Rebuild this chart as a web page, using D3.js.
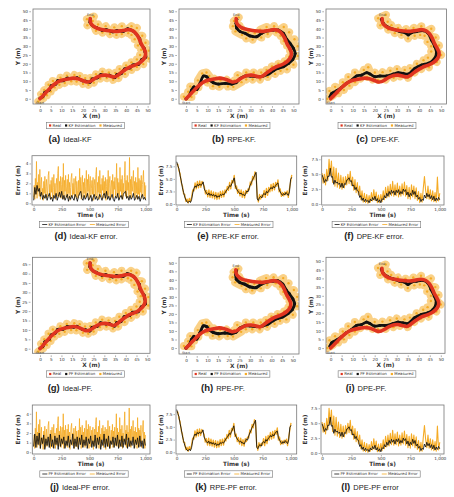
<!DOCTYPE html>
<html>
<head>
<meta charset="utf-8">
<script src="https://cdn.jsdelivr.net/npm/d3@7/dist/d3.min.js"></script>
<style>
  body { margin: 0; background: #fff; }
  svg { display: block; }
  text { font-family: "DejaVu Sans", sans-serif; }
  .cap { font-family: "Liberation Sans", Arial, sans-serif; }
</style>
</head>
<body>
<div id="chart"></div>
<script>
// ---- trajectory data (x, y in metres) ----
const realPath = [[0,0],[1.2,1.5],[2.5,3.2],[4,5.2],[5.5,7],[7,8.6],[8.5,9.8],[10.5,10.7],[13,11.3],[15.5,11.8],[17.5,11.5],
  [19.5,10.6],[21.5,9.6],[23,9.8],[24.5,10.8],[26.5,12.3],[28.5,13.3],[30.5,13.5],[32.5,13],[34.5,12.4],[36,13.3],[37.5,14.8],
  [39.5,16.5],[41.5,18],[43.5,18.9],[45.5,20],[47.5,21.8],[48.8,24],[49,26.5],[48.2,28.8],[47,31.5],[46,34.5],[44.8,37],
  [43.2,38.8],[41,39.5],[38.5,39],[36,38.5],[33.5,38.7],[31,39],[28.5,39.6],[26.5,40.3],[24.8,41.5],[23.6,43.2],[23.3,45.8]];

const idealEstimate = [[0,0.3],[1.4,1.2],[2.2,3.6],[4.3,4.9],[5.2,7.4],[7.3,8.3],[8.2,10.3],[10.8,10.3],[12.7,11.8],[15.8,11.4],
  [17.2,12.0],[19.8,10.2],[21.2,10.1],[23.3,9.4],[24.2,11.3],[26.8,11.9],[28.2,13.8],[30.8,13.1],[32.2,13.5],[34.8,12.0],
  [35.7,13.8],[37.8,14.4],[39.2,17.0],[41.8,17.6],[43.2,19.4],[45.8,19.6],[47.2,22.3],[49.2,23.8],[48.7,26.9],[48.6,28.5],
  [46.6,31.8],[46.4,34.2],[44.4,37.4],[43.6,38.4],[40.7,40.0],[38.8,38.5],[35.7,39.0],[33.8,38.2],[30.7,39.5],[28.8,39.1],
  [26.2,40.8],[25.1,41.1],[23.2,43.6],[23.4,45.6]];

const idealMeasured = [[-0.8,-1.5],[1.5,0.2],[0.5,2.6],[3.2,2.0],[2.0,5.0],[5.0,4.2],[4.0,8.0],[6.8,6.5],[6.0,10.2],[9.0,8.0],
  [9.5,12.0],[11.5,9.0],[12.5,13.2],[14.5,10.0],[16.0,13.6],[17.0,9.8],[18.5,13.0],[20.0,8.5],[21.0,11.8],[22.5,8.0],[23.5,12.0],
  [25.0,9.2],[26.0,14.0],[28.0,11.5],[29.0,15.5],[31.0,11.8],[32.0,15.0],[34.0,10.8],[35.0,14.8],[36.5,11.8],[37.0,17.0],
  [39.5,14.2],[40.0,19.0],[42.5,16.5],[42.5,20.8],[45.0,18.2],[45.0,22.5],[48.0,19.8],[46.5,25.0],[50.5,23.0],[47.0,28.0],
  [50.5,27.5],[45.5,30.5],[49.0,32.0],[44.0,34.0],[47.5,36.0],[42.5,36.5],[45.0,40.5],[41.0,37.5],[42.5,41.5],[38.0,37.0],
  [38.0,41.5],[35.5,36.5],[34.5,40.8],[32.5,37.0],[30.5,41.5],[29.0,37.8],[27.0,42.5],[26.0,38.8],[24.5,44.5],[22.0,42.0],
  [25.0,47.0],[21.8,45.5]];

const rpeEstimate = [[0,0],[1.6,2.1],[2.6,5],[3.7,6.8],[5,5.3],[6.5,8.8],[8.1,13],[9.6,12.6],[10.9,10.7],[12.7,9.2],[15.1,8.4],
  [18.2,8.8],[21.3,8.4],[23.3,9.2],[25.2,11.6],[27.5,13],[29.8,13],[32.9,12.6],[36,13],[38.4,14.1],[40.7,16],[43,17.4],
  [45.3,18.3],[47.7,20.2],[49.7,22.5],[50.8,25.9],[50,28.8],[48.4,31.7],[46.9,34],[45.3,37.4],[43,39.3],[40.7,39.3],
  [38.4,38.9],[35.2,37.4],[32.9,35.5],[29.8,35.9],[27.5,37.4],[25.2,38.4],[23.6,40.3],[23.3,43.1],[23.6,45.4]];

const rpeMeasured = [[-1,1.2],[2.5,1],[1,4],[3.8,4.2],[2,7],[5.8,6.6],[5.5,10.5],[7.5,14.5],[9.5,15],[10.8,13],[10,9.2],
  [13,11.5],[12.5,7.2],[16,10.5],[15.5,6.8],[19,10.8],[19.5,7],[22.5,10.5],[22,6.8],[25.8,9.5],[24,13.5],[28,11],[28,15],
  [31,11],[31.5,15],[34.5,11],[35,15],[38,12.5],[37.5,16.5],[41.5,14.2],[40,18.5],[44,16],[43,20],[47,16.8],[46,21.5],
  [50,19.5],[48,24],[52,24.5],[48.5,27.5],[52,30],[47,30.5],[50.5,34],[45.5,33],[48,38],[44,36],[45.5,41],[42,38],[41,41.5],
  [38,37],[37.5,41],[34.5,39.5],[35,35],[32,37.5],[31,33.8],[29,37.8],[28,34.5],[26,39.8],[26,36.5],[23,38.5],[24.8,42],
  [21.8,41.5],[24.5,46.5],[22.3,44.5]];

const dpeEstimate = [[-0.3,1.1],[0.45,3],[2.7,4.6],[5,6.5],[7.2,8.8],[9.5,10.7],[11.7,13],[14,13.5],[16.3,14.9],[17.8,14.1],
  [20,12.6],[22.3,13],[25.3,13],[28.3,14.1],[30.6,14.9],[32.8,14.5],[35.1,14.1],[38.1,17.4],[41.1,19.3],[44.1,20.2],
  [46.4,22.1],[47.9,26],[47.1,29.8],[45.6,33.6],[44.1,37.4],[41.9,38.9],[38.9,38.4],[36.6,37.8],[35.1,36.5],[33.6,37.8],
  [31.3,38.4],[28.3,39.7],[25.6,41.2],[23.8,43.1],[23,45.4]];

const dpeMeasured = [[-1.5,0],[1,1.8],[-0.5,4.5],[3.5,3.2],[2,6.8],[6,5],[5.5,9.5],[8.5,7.5],[8,12.5],[11,9.5],[11,15],
  [13.5,11.5],[15,16.5],[16.5,12.5],[17,18],[19,11],[20,15],[21.5,10.8],[23.5,15.2],[25,11],[27,16],[28.5,12],[30,17],
  [31.5,12.8],[33.5,16.5],[35,12],[36,17.5],[38,15],[39,20],[41,17],[42,22],[44.5,18],[44,23.5],[48,21],[45.5,27],[50,25],
  [45.5,30],[49,30.5],[43.8,32.5],[47.5,35],[42.5,36],[45.5,40],[40.5,36.5],[41,41.5],[38,36],[37.5,40.5],[35,34.5],
  [34,39.8],[32,36.5],[30.5,40.5],[29,37.5],[27.5,42],[26,39.5],[25.8,44],[22.5,42],[25,48],[21.5,46]];

// ---- error series over 0..1000 s, samples evenly spaced ----
const idealMeasuredError = [0.6,1.8,0.4,2.5,0.9,4.2,0.5,2.1,1.2,2.9, 0.7,3.4,0.4,1.9,2.6,0.8,1.5,0.3,2.2,1.0,
  2.7,0.5,1.7,2.4,0.6,1.3,2.8,3.2,0.7,1.9, 0.4,2.3,1.1,2.6,0.5,1.6,2.9,0.8,2.0,0.4, 1.8,2.5,0.7,3.0,3.7,0.6,2.2,1.0,2.7,0.5,
  1.9,2.6,0.8,4.0,0.4,2.3,1.2,2.8,0.6,1.7, 2.4,0.5,2.9,1.0,2.1,0.3,1.6,2.6,3.0,0.7, 2.0,0.9,2.5,0.4,1.8,2.7,0.6,2.2,1.3,0.5,
  2.3,0.8,3.5,1.1,2.6,0.4,1.9,2.8,0.6,2.1, 1.0,2.5,0.5,1.7,3.3,0.7,2.4,1.2,2.9,0.4, 2.0,2.7,0.6,1.5,2.3,0.9,2.6,0.3,1.8,2.4,
  0.7,2.9,3.6,0.5,2.1,1.1,2.7,0.4,3.3,1.0, 1.9,0.6,2.5,1.3,2.8,0.5,2.2,0.9,2.6,0.3, 1.7,2.4,0.8,3.3,0.6,2.0,2.7,0.4,1.6,2.3,
  0.9,2.9,0.5,2.2,1.4,2.6,0.7,1.8,4.0,0.6, 2.5,0.9,2.1,0.5,3.6,1.2,2.4,0.6,2.8,0.4, 2.0,1.1,2.6,4.2,0.7,2.3,0.5,2.8,1.3,2.1,
  0.6,4.6,0.9,2.4,0.5,2.7,1.2,2.0,3.3,0.8, 2.2,0.5,2.6,1.0,2.1,0.4,3.6,0.9,2.5,0.6, 2.3,1.1,2.8,0.5,1.9,2.4,3.3,0.7,2.1,0.4,
  1.8];
const idealKfError = [0.3,1.6,0.9,1.8,1.2,1.5,0.7,1.1,0.4,0.8, 0.5,0.9,0.3,0.7,1.0,0.4,0.6,0.2,0.8,0.5,
  1.0,0.3,0.7,1.1,0.6,1.2,0.4,0.8,0.3,0.6, 0.9,0.2,0.7,0.4,0.8,0.5,0.3,0.9,0.6,0.2, 0.7,1.0,1.2,0.5,0.3,0.8,0.4,0.6,1.0,0.3,
  0.5,0.8,0.2,0.6,0.9,0.4,0.7,0.3,0.5,0.9, 0.6,0.3,0.8,1.0,0.5,1.2,0.4,0.7,0.3,0.6, 0.9,0.4,0.2,0.7,0.5,1.0,0.3,0.6,0.8,0.4,
  0.9,1.1,1.2,0.5,0.7,0.3,0.8,0.4,0.6,1.0, 0.3,0.5,0.8,0.4,0.7,0.2,0.6,0.9,0.4,0.6, 0.3];
const idealPfError = [0.6,1.9,0.5,1.7,0.8,2.0,0.4,1.5,0.9,1.8, 0.3,1.4,0.7,1.6,0.5,1.9,0.6,1.3,0.4,1.7,
  0.8,1.5,0.3,1.8,0.6,1.4,0.9,1.6,0.4,1.2, 0.7,1.7,0.5,1.3,0.8,1.9,0.4,1.4,0.6,1.6, 0.3,1.5,0.8,1.8,0.5,1.3,0.7,1.6,0.4,1.4,
  0.9,1.7,0.5,1.2,0.6,1.8,0.4,1.5,0.8,1.6, 0.3,1.3,0.7,1.9,0.5,1.4,0.6,1.7,0.4,1.2, 0.8,1.6,0.5,1.5,0.7,1.8,0.4,1.3,0.6,1.7,
  0.5,1.4,0.8,1.9,0.4,1.5,0.6,1.2,0.7,1.6, 0.4,1.3,0.8,1.5,0.5,1.7,0.6,1.2,0.4,1.4, 0.7];
const rpeEstimateError = [8.4,7.6,7.0,5.6,4.6,3.2,2.3,1.4,0.8,0.4, 0.3,0.6,0.3,0.9,2.2,3.1,3.6,3.3,3.9,3.6,
  4.0,3.7,3.9,4.4,3.0,2.5,2.1,1.8,2.2,1.7, 2.0,1.6,1.9,1.5,1.8,1.3,1.6,1.4,1.9,1.7, 2.0,1.8,2.2,2.6,2.9,3.2,3.7,3.5,4.1,4.6,
  5.2,3.6,3.0,2.6,2.3,2.0,2.2,1.8,1.9,1.6, 2.1,2.6,2.4,3.2,3.8,4.3,4.9,5.3,5.8,6.3, 1.0,0.7,1.3,1.5,1.2,1.9,2.1,1.8,2.5,2.2,
  2.7,2.9,3.3,3.0,3.5,3.2,3.7,4.0,4.2,2.9, 2.4,2.0,1.7,2.1,1.8,2.3,2.0,1.7,2.4,4.9, 5.3];
const rpeMeasuredError = [8.0,7.9,6.6,6.0,4.2,3.6,2.0,1.9,0.5,1.0, 0.2,1.1,0.5,1.4,2.8,2.6,4.2,3.0,4.5,3.2,
  4.6,3.3,4.5,4.0,3.5,2.0,2.7,1.4,2.8,1.3, 2.6,1.2,2.4,1.0,2.3,0.9,2.2,1.0,2.5,1.3, 2.6,1.4,2.8,2.2,3.5,2.7,4.3,3.0,4.7,4.2,
  5.7,3.1,3.6,2.1,2.9,1.6,2.8,1.3,2.5,1.2, 2.7,2.1,3.0,2.8,4.4,3.8,5.5,4.8,6.4,5.9, 1.5,0.4,1.9,1.0,1.8,1.4,2.7,1.3,3.1,1.7,
  3.3,2.4,3.9,2.6,4.1,2.8,4.3,3.5,4.8,2.4, 3.0,1.5,2.3,1.6,2.4,1.8,2.6,1.3,3.0,4.4, 5.8];
const dpeEstimateError = [4.9,4.4,3.6,4.1,3.8,4.7,4.6,6.0,4.5,4.6, 3.3,4.0,3.5,3.7,3.3,3.5,2.8,3.5,2.7,3.4,
  3.3,4.0,4.1,4.4,3.8,3.9,3.0,3.2,2.4,2.8, 2.2,2.1,1.1,1.4,0.6,1.0,0.4,0.8,0.4,0.6, 0.2,0.8,0.5,1.1,0.7,1.3,0.5,0.9,0.3,0.7,
  0.2,0.9,0.7,1.4,1.0,1.8,1.3,2.1,1.6,2.3, 1.8,2.2,1.5,2.3,1.9,2.4,1.6,2.1,1.7,2.5, 2.1,2.4,1.5,2.0,1.2,1.8,1.4,2.3,1.6,2.1,
  1.2,1.5,0.8,1.1,0.4,0.8,0.6,1.5,1.0,1.8, 1.2,1.6,0.9,1.4,0.7,1.3,0.5,1.0,0.6,1.1, 0.7];
const dpeMeasuredError = [5.2,3.5,5.0,3.2,5.8,3.9,7.5,4.8,7.2,3.6, 6.2,3.0,6.0,2.8,5.2,2.6,4.8,2.5,4.5,2.7,
  4.6,3.2,5.0,3.4,5.5,3.1,4.5,2.3,4.1,1.9, 3.6,1.5,3.0,0.7,2.2,0.3,1.8,0.2,1.6,0.1, 1.4,0.3,1.9,0.5,2.4,0.6,2.0,0.2,1.5,0.2,
  1.6,0.4,2.2,0.7,2.8,1.0,3.0,1.2,3.3,1.4, 3.8,1.3,3.2,1.4,3.5,1.2,3.0,1.3,3.4,1.5, 3.7,1.3,3.1,0.9,2.8,0.8,3.2,1.2,3.0,0.9,
  2.7,0.6,2.1,0.2,1.8,0.3,2.6,4.6,2.3,0.9, 3.0,0.8,2.4,0.5,2.2,0.4,1.9,0.3,4.5,0.5, 1.8];
const runDuration = 1000;

// ---- tick labels ----
const trackTicks = [0,5,10,15,20,25,30,35,40,45,50];
const trackTicksShort = [0,5,10,15,20,25,30,35,40,45];
const timeTicks = [0,250,500,750,1000];
const smallErrorTicks = [0,1,2,3,4];
const largeErrorTicks = [0,2.5,5,7.5];

const RED = '#e0341f', ORANGE = '#f5ab25', BLACK = '#111';
const W = 454, H = 497;

const svg = d3.select('#chart').append('svg')
  .attr('width', W)
  .attr('height', H);

function drawLegend(cx, cy, items, kind) {
  const lg = svg.append('g');
  let xPos = 2.5;
  items.forEach(it => {
    if (kind === 'dot') {
      lg.append('rect').attr('x', xPos).attr('y', -1.1).attr('width', 2.2).attr('height', 2.2).attr('fill', it.color);
      xPos += 3.6;
    } else {
      lg.append('line').attr('x1', xPos).attr('x2', xPos + 5).attr('y1', 0).attr('y2', 0)
        .attr('stroke', it.color).attr('stroke-width', 0.8);
      xPos += 6.2;
    }
    const t = lg.append('text').attr('x', xPos).attr('y', 1.4)
      .attr('font-size', 3.9).attr('fill', '#333').text(it.label);
    xPos += t.node().getComputedTextLength() + 4;
  });
  const w = xPos - 1.5;
  lg.insert('rect', ':first-child')
    .attr('x', 0).attr('y', -3.2).attr('width', w).attr('height', 6.4)
    .attr('fill', '#fff').attr('stroke', '#777').attr('stroke-width', 0.6);
  lg.attr('transform', `translate(${cx - w / 2},${cy})`);
}

function drawCaption(cx, y, letter, label) {
  const t = svg.append('text').attr('class', 'cap')
    .attr('x', cx).attr('y', y).attr('text-anchor', 'middle').attr('fill', '#222');
  t.append('tspan').attr('font-size', 9.5).attr('font-weight', 'bold').text(`(${letter})`);
  t.append('tspan').attr('font-size', 7.5).attr('dx', 3).text(label);
}

function styleAxis(sel) {
  sel.select('.domain').remove();
  sel.selectAll('.tick line').attr('stroke', '#666').attr('stroke-width', 0.5);
  sel.selectAll('.tick text').attr('font-size', 4.2).attr('fill', '#333')
    .attr('font-family', '"DejaVu Sans", sans-serif');
}

function drawTrack(p) {
  const x = d3.scaleLinear().domain(p.xDomain).range([p.left, p.right]);
  const y = d3.scaleLinear().domain(p.yDomain).range([p.bottom, p.top]);
  const g = svg.append('g');

  g.append('clipPath').attr('id', 'clip-' + p.id)
    .append('rect').attr('x', p.left).attr('y', p.top)
    .attr('width', p.right - p.left).attr('height', p.bottom - p.top);
  g.append('rect').attr('x', p.left).attr('y', p.top)
    .attr('width', p.right - p.left).attr('height', p.bottom - p.top)
    .attr('fill', '#fff');

  const plot = g.append('g').attr('clip-path', `url(#clip-${p.id})`);
  const line = d3.line().x(d => x(d[0])).y(d => y(d[1])).curve(d3.curveCatmullRom);
  const cloud = d3.line().x(d => x(d[0])).y(d => y(d[1]));

  // measured cloud
  plot.append('path').datum(p.measured).attr('d', cloud)
    .attr('fill', 'none').attr('stroke', ORANGE).attr('stroke-width', 8)
    .attr('stroke-opacity', 0.55).attr('stroke-linejoin', 'round').attr('stroke-linecap', 'round');
  plot.selectAll('.meas').data(p.measured).join('circle')
    .attr('cx', d => x(d[0])).attr('cy', d => y(d[1])).attr('r', 1.2).attr('fill', ORANGE);

  // estimation
  plot.append('path').datum(p.estimate).attr('d', line)
    .attr('fill', 'none').attr('stroke', BLACK).attr('stroke-width', p.estWidth)
    .attr('stroke-linejoin', 'round').attr('stroke-linecap', 'round');
  plot.selectAll('.est').data(p.estimate).join('circle')
    .attr('cx', d => x(d[0])).attr('cy', d => y(d[1])).attr('r', p.estWidth * 0.55).attr('fill', BLACK);

  // real path
  plot.append('path').datum(realPath).attr('d', line)
    .attr('fill', 'none').attr('stroke', RED).attr('stroke-width', 3.6)
    .attr('stroke-linejoin', 'round').attr('stroke-linecap', 'round');

  const start = realPath[0], end = realPath[realPath.length - 1];
  g.append('text').attr('x', x(start[0])).attr('y', y(start[1]) + 5.5).attr('text-anchor', 'middle')
    .attr('font-size', 3.4).attr('fill', '#444').text('Start');
  g.append('text').attr('x', x(end[0])).attr('y', y(end[1]) - 3).attr('text-anchor', 'middle')
    .attr('font-size', 3.4).attr('fill', '#444').text('End');

  g.append('rect').attr('x', p.left).attr('y', p.top)
    .attr('width', p.right - p.left).attr('height', p.bottom - p.top)
    .attr('fill', 'none').attr('stroke', '#777').attr('stroke-width', 0.8);

  g.append('g').attr('transform', `translate(0,${p.bottom + 2})`)
    .call(d3.axisBottom(x).tickValues(trackTicks).tickSize(1.8).tickPadding(1.2))
    .call(styleAxis);
  g.append('g').attr('transform', `translate(${p.left - 2},0)`)
    .call(d3.axisLeft(y).tickValues(p.yTicks).tickSize(1.8).tickPadding(1.2))
    .call(styleAxis);

  g.append('text').attr('x', (p.left + p.right) / 2).attr('y', p.bottom + 13.5)
    .attr('text-anchor', 'middle').attr('font-size', 5.8).attr('font-weight', 'bold')
    .attr('fill', '#333').text('X (m)');
  g.append('text')
    .attr('transform', `translate(${p.left - 13},${(p.top + p.bottom) / 2}) rotate(-90)`)
    .attr('text-anchor', 'middle').attr('font-size', 5.8).attr('font-weight', 'bold')
    .attr('fill', '#333').text('Y (m)');

  drawLegend(p.legendX, p.legendY, [
    { label: 'Real', color: RED },
    { label: p.filter + ' Estimation', color: BLACK },
    { label: 'Measured', color: ORANGE }
  ], 'dot');
}

function drawError(p) {
  const x = d3.scaleLinear().domain(p.xDomain).range([p.left, p.right]);
  const y = d3.scaleLinear().domain(p.yDomain).range([p.bottom, p.top]);
  const g = svg.append('g');

  g.append('clipPath').attr('id', 'clip-' + p.id)
    .append('rect').attr('x', p.left).attr('y', p.top)
    .attr('width', p.right - p.left).attr('height', p.bottom - p.top);
  const plot = g.append('g').attr('clip-path', `url(#clip-${p.id})`);
  const lineFor = arr => d3.line()
    .x((d, i) => x(i * runDuration / (arr.length - 1)))
    .y(d => y(d));

  plot.append('path').datum(p.measured).attr('d', lineFor(p.measured))
    .attr('fill', 'none').attr('stroke', ORANGE).attr('stroke-width', p.measWidth)
    .attr('stroke-linejoin', 'round');
  plot.append('path').datum(p.estimate).attr('d', lineFor(p.estimate))
    .attr('fill', 'none').attr('stroke', BLACK).attr('stroke-width', 0.85)
    .attr('stroke-linejoin', 'round');

  g.append('rect').attr('x', p.left).attr('y', p.top)
    .attr('width', p.right - p.left).attr('height', p.bottom - p.top)
    .attr('fill', 'none').attr('stroke', '#777').attr('stroke-width', 0.8);

  g.append('g').attr('transform', `translate(0,${p.bottom + 1})`)
    .call(d3.axisBottom(x).tickValues(timeTicks).tickFormat(d3.format(',')).tickSize(1.5).tickPadding(1))
    .call(styleAxis);
  g.append('g').attr('transform', `translate(${p.left - 1},0)`)
    .call(d3.axisLeft(y).tickValues(p.yTicks).tickFormat(d3.format(p.yFormat)).tickSize(1.5).tickPadding(1))
    .call(styleAxis);

  g.append('text').attr('x', (p.left + p.right) / 2).attr('y', p.bottom + 12)
    .attr('text-anchor', 'middle').attr('font-size', 5.8).attr('font-weight', 'bold')
    .attr('fill', '#333').text('Time (s)');
  g.append('text')
    .attr('transform', `translate(${p.left - p.yTitleGap},${(p.top + p.bottom) / 2}) rotate(-90)`)
    .attr('text-anchor', 'middle').attr('font-size', 5.8).attr('font-weight', 'bold')
    .attr('fill', '#333').text('Error (m)');

  drawLegend(p.legendX, p.legendY, [
    { label: p.filter + ' Estimation Error', color: BLACK },
    { label: 'Measured Error', color: ORANGE }
  ], 'line');
}

// ---- panels ----
const trackPanels = [
  { id: 'a', filter: 'KF', left: 33, right: 150, top: 9, bottom: 104, xDomain: [-3.25, 51.1], yDomain: [-3.0, 51.3],
    yTicks: trackTicks, estimate: idealEstimate, measured: idealMeasured, estWidth: 2.6, legendX: 85.5, legendY: 125.5 },
  { id: 'b', filter: 'KF', left: 179, right: 299, top: 9, bottom: 104, xDomain: [-3.3, 52.6], yDomain: [-3.0, 51.3],
    yTicks: trackTicks, estimate: rpeEstimate, measured: rpeMeasured, estWidth: 2.8, legendX: 231, legendY: 125.5 },
  { id: 'c', filter: 'KF', left: 326, right: 446.5, top: 9, bottom: 104, xDomain: [-2.1, 52.4], yDomain: [-3.0, 51.3],
    yTicks: trackTicks, estimate: dpeEstimate, measured: dpeMeasured, estWidth: 2.8, legendX: 377, legendY: 125.5 },
  { id: 'g', filter: 'PF', left: 32.5, right: 150, top: 257.3, bottom: 353.3, xDomain: [-3.5, 51.3], yDomain: [-2.45, 48.7],
    yTicks: trackTicksShort, estimate: idealEstimate, measured: idealMeasured, estWidth: 2.6, legendX: 85.5, legendY: 374 },
  { id: 'h', filter: 'PF', left: 179, right: 299, top: 257.3, bottom: 354, xDomain: [-3.3, 52.9], yDomain: [-3.5, 53.2],
    yTicks: trackTicks, estimate: rpeEstimate, measured: rpeMeasured, estWidth: 3.0, legendX: 231, legendY: 374 },
  { id: 'i', filter: 'PF', left: 326, right: 445, top: 257.3, bottom: 353.3, xDomain: [-2.1, 51.9], yDomain: [-3.0, 52.1],
    yTicks: trackTicks, estimate: dpeEstimate, measured: dpeMeasured, estWidth: 2.8, legendX: 377, legendY: 374 }
];

const errorPanels = [
  { id: 'd', filter: 'KF', left: 32, right: 149, top: 155.7, bottom: 205, xDomain: [-15, 1029], yDomain: [-0.17, 4.78],
    yTicks: smallErrorTicks, yFormat: 'd', yTitleGap: 12, estimate: idealKfError, measured: idealMeasuredError, measWidth: 0.8,
    legendX: 84, legendY: 224.5 },
  { id: 'e', filter: 'KF', left: 176, right: 296.7, top: 156, bottom: 205, xDomain: [-6, 1043], yDomain: [-0.2, 9.55],
    yTicks: largeErrorTicks, yFormat: '.1f', yTitleGap: 13.5, estimate: rpeEstimateError, measured: rpeMeasuredError, measWidth: 1.3,
    legendX: 228.7, legendY: 224.5 },
  { id: 'f', filter: 'KF', left: 321.7, right: 444, top: 156, bottom: 205, xDomain: [-2.5, 1036], yDomain: [-0.17, 8.05],
    yTicks: largeErrorTicks, yFormat: '.1f', yTitleGap: 14.5, estimate: dpeEstimateError, measured: dpeMeasuredError, measWidth: 1.1,
    legendX: 376.4, legendY: 224.5 },
  { id: 'j', filter: 'PF', left: 32.3, right: 150, top: 405, bottom: 454, xDomain: [-12, 1041], yDomain: [-0.18, 4.91],
    yTicks: smallErrorTicks, yFormat: 'd', yTitleGap: 12, estimate: idealPfError, measured: idealMeasuredError, measWidth: 0.8,
    legendX: 84, legendY: 474 },
  { id: 'k', filter: 'PF', left: 176, right: 296.7, top: 405, bottom: 454, xDomain: [-6, 1050], yDomain: [-0.34, 9.3],
    yTicks: largeErrorTicks, yFormat: '.1f', yTitleGap: 13.5, estimate: rpeEstimateError, measured: rpeMeasuredError, measWidth: 1.3,
    legendX: 228.5, legendY: 474 },
  { id: 'l', filter: 'PF', left: 321, right: 444, top: 405, bottom: 454, xDomain: [-8.5, 1036], yDomain: [-0.17, 8.05],
    yTicks: largeErrorTicks, yFormat: '.1f', yTitleGap: 14.5, estimate: dpeEstimateError, measured: dpeMeasuredError, measWidth: 1.1,
    legendX: 376, legendY: 474 }
];

trackPanels.forEach(drawTrack);
errorPanels.forEach(drawError);

const captions = [
  ['a', 'Ideal-KF', 70, 142], ['b', 'RPE-KF.', 234, 142], ['c', 'DPE-KF.', 378, 142],
  ['d', 'Ideal-KF error.', 86, 239], ['e', 'RPE-KF error.', 228, 239], ['f', 'DPE-KF error.', 374, 239],
  ['g', 'Ideal-PF.', 70, 391], ['h', 'RPE-PF.', 223, 391], ['i', 'DPE-PF.', 366, 391],
  ['j', 'Ideal-PF error.', 80, 490], ['k', 'RPE-PF error.', 226, 490], ['l', 'DPE-PF error', 370, 490]
];
captions.forEach(c => drawCaption(c[2], c[3], c[0], c[1]));
</script>
</body>
</html>
